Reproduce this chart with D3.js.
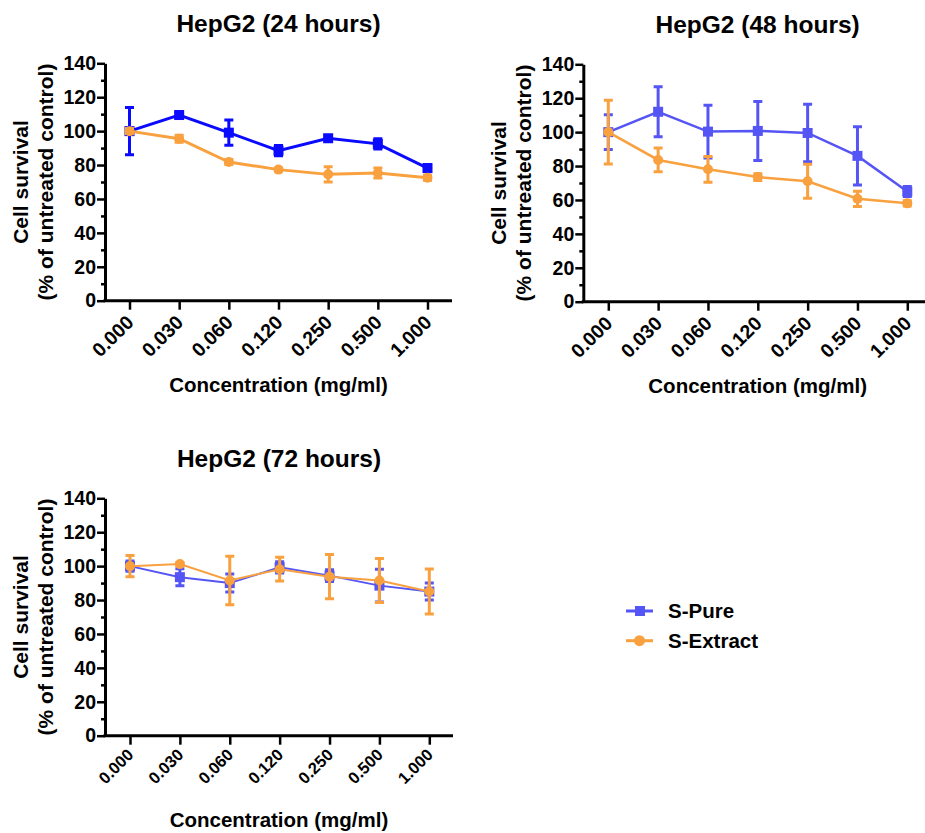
<!DOCTYPE html>
<html>
<head>
<meta charset="utf-8">
<script src="https://cdn.jsdelivr.net/npm/d3@7"></script>
<style>
  body { margin: 0; background: #fff; }
  svg { display: block; font-family: "Liberation Sans", Arial, sans-serif; font-weight: bold; }
</style>
</head>
<body>
<div id="container"></div>
<script>
/* DATA */
const concentrations = ["0.000", "0.030", "0.060", "0.120", "0.250", "0.500", "1.000"];
const yMajorTicks = [0, 20, 40, 60, 80, 100, 120, 140];
const yMinorTicks = [10, 30, 50, 70, 90, 110, 130];
const seriesNames = ["S-Pure", "S-Extract"];
const panelTitles = ["HepG2 (24 hours)", "HepG2 (48 hours)", "HepG2 (72 hours)"];

const pure24 = [100, 109.5, 99.1, 88.5, 95.8, 92.5, 78.2];
const pure24Err = [14, 1.5, 7.5, 3, 1.5, 3, 2];
const extract24 = [100, 95.5, 81.8, 77.3, 74.5, 75.3, 72.5];
const extract24Err = [1.5, 2, 1.5, 1, 4.5, 3, 1.5];

const pure48 = [100, 112, 100.3, 100.7, 99.5, 86, 65];
const pure48Err = [10.3, 14.7, 15.5, 17.4, 17, 17.2, 3];
const extract48 = [100, 83.6, 78.1, 73.5, 71, 60.7, 58];
const extract48Err = [18.8, 7, 7.6, 2, 10, 4.5, 1.5];

const pure72 = [100, 93.5, 90, 99.3, 94.4, 88.5, 85];
const pure72Err = [3, 5, 5.3, 3.3, 3.5, 9.6, 5];
const extract72 = [100, 101.2, 91.5, 98.2, 93.8, 91.5, 85];
const extract72Err = [6.2, 1, 14.3, 7, 13, 13, 13.3];

/* LAYOUT */
const width = 925;
const height = 833;
const orange = "#f9a03f";
const fontFamily = "'Liberation Sans', Arial, sans-serif";

const panels = [
  { title: panelTitles[0], pure: pure24, pureErr: pure24Err, extract: extract24, extractErr: extract24Err,
    axisX: 105, first: 129.5, last: 427.5, axisEnd: 452, yTop: 63.3, yBot: 300.7,
    blue: "#0a0aff", lineW: 3, xLabelSize: 19.5, xLabelShift: 18 },
  { title: panelTitles[1], pure: pure48, pureErr: pure48Err, extract: extract48, extractErr: extract48Err,
    axisX: 583.3, first: 608.3, last: 907.3, axisEnd: 932, yTop: 64.3, yBot: 301.7,
    blue: "#5555f5", lineW: 2.5, xLabelSize: 19.5, xLabelShift: 18 },
  { title: panelTitles[2], pure: pure72, pureErr: pure72Err, extract: extract72, extractErr: extract72Err,
    axisX: 105, first: 130, last: 429.3, axisEnd: 453, yTop: 498.3, yBot: 735.7,
    blue: "#5555f5", lineW: 2, xLabelSize: 16.5, xLabelShift: 16 },
];

const svg = d3
  .select("#container")
  .append("svg")
  .attr("width", width)
  .attr("height", height);

panels.forEach((p) => {
  const xScale = d3.scalePoint().domain(concentrations).range([p.first, p.last]);
  const yScale = d3.scaleLinear().domain([0, 140]).range([p.yBot, p.yTop]);
  const g = svg.append("g");
  const midX = (p.axisX + p.axisEnd) / 2;
  const midY = (p.yTop + p.yBot) / 2;

  // TITLE ------------------------------------------------
  g.append("text")
    .attr("x", midX)
    .attr("y", p.yTop - 31)
    .attr("text-anchor", "middle")
    .style("font-size", "24.5px")
    .text(p.title);

  // Y AXIS -----------------------------------------------
  const yAxis = g
    .append("g")
    .attr("transform", `translate(${p.axisX},0)`)
    .call(d3.axisLeft(yScale).tickValues(yMajorTicks).tickSize(8).tickSizeOuter(0).tickPadding(1));
  yAxis.select(".domain").attr("stroke-width", 3);
  yAxis.selectAll(".tick line").attr("stroke-width", 2.5);
  yAxis.selectAll(".tick text")
    .style("font-size", "19.5px")
    .style("font-weight", "bold")
    .style("font-family", fontFamily);

  const yMinor = g
    .append("g")
    .attr("transform", `translate(${p.axisX},0)`)
    .call(d3.axisLeft(yScale).tickValues(yMinorTicks).tickSize(4).tickSizeOuter(0).tickFormat(""));
  yMinor.select(".domain").remove();
  yMinor.selectAll(".tick line").attr("stroke-width", 2.5);

  // X AXIS -----------------------------------------------
  g.append("line")
    .attr("x1", p.axisX - 1.5)
    .attr("x2", p.axisEnd)
    .attr("y1", p.yBot)
    .attr("y2", p.yBot)
    .attr("stroke", "#000")
    .attr("stroke-width", 3);

  const xAxis = g
    .append("g")
    .attr("transform", `translate(0,${p.yBot})`)
    .call(d3.axisBottom(xScale).tickSize(9).tickSizeOuter(0));
  xAxis.select(".domain").remove();
  xAxis.selectAll(".tick line").attr("stroke-width", 2.5);
  xAxis.selectAll(".tick text")
    .attr("x", 0)
    .attr("y", 0)
    .attr("dy", "0.35em")
    .attr("text-anchor", "end")
    .attr("transform", `translate(0,${p.xLabelShift}) rotate(-45)`)
    .style("font-size", p.xLabelSize + "px")
    .style("font-weight", "bold")
    .style("font-family", fontFamily);

  // AXIS LABELS ------------------------------------------
  g.append("text")
    .attr("x", midX)
    .attr("y", p.yBot + 91)
    .attr("text-anchor", "middle")
    .style("font-size", "20.5px")
    .text("Concentration (mg/ml)");

  g.append("text")
    .attr("transform", `translate(${p.axisX - 77},${midY}) rotate(-90)`)
    .attr("text-anchor", "middle")
    .style("font-size", "21px")
    .text("Cell survival");

  g.append("text")
    .attr("transform", `translate(${p.axisX - 52},${midY}) rotate(-90)`)
    .attr("text-anchor", "middle")
    .style("font-size", "21px")
    .text("(% of untreated control)");

  // SERIES -----------------------------------------------
  const series = [
    { name: seriesNames[0], values: p.pure, errs: p.pureErr, color: p.blue, shape: "square" },
    { name: seriesNames[1], values: p.extract, errs: p.extractErr, color: orange, shape: "circle" },
  ];

  series.forEach((s) => {
    const rows = concentrations.map((c, i) => ({ c, v: s.values[i], e: s.errs[i] }));
    const sg = g.append("g");

    sg.append("path")
      .datum(rows)
      .attr("fill", "none")
      .attr("stroke", s.color)
      .attr("stroke-width", p.lineW)
      .attr("d", d3.line().x((d) => xScale(d.c)).y((d) => yScale(d.v)));

    // error bars
    sg.selectAll(".err")
      .data(rows)
      .join("path")
      .attr("class", "err")
      .attr("fill", "none")
      .attr("stroke", s.color)
      .attr("stroke-width", 3)
      .attr("d", (d) => {
        const x = xScale(d.c);
        const y1 = yScale(d.v + d.e);
        const y0 = yScale(d.v - d.e);
        return `M${x - 4.5},${y1}H${x + 4.5}M${x},${y1}V${y0}M${x - 4.5},${y0}H${x + 4.5}`;
      });

    if (s.shape === "square") {
      sg.selectAll(".mk")
        .data(rows)
        .join("rect")
        .attr("class", "mk")
        .attr("x", (d) => xScale(d.c) - 5)
        .attr("y", (d) => yScale(d.v) - 5)
        .attr("width", 10)
        .attr("height", 10)
        .attr("fill", s.color);
    } else {
      sg.selectAll(".mk")
        .data(rows)
        .join("circle")
        .attr("class", "mk")
        .attr("cx", (d) => xScale(d.c))
        .attr("cy", (d) => yScale(d.v))
        .attr("r", 5)
        .attr("fill", s.color);
    }
  });
});

// LEGEND -------------------------------------------------
const legendColors = ["#5555f5", orange];
const legend = svg
  .selectAll(".legend")
  .data(seriesNames)
  .join("g")
  .attr("class", "legend")
  .attr("transform", (_, i) => `translate(626,${611 + i * 29.7})`);

legend.append("line")
  .attr("x1", 0)
  .attr("x2", 27)
  .attr("stroke", (_, i) => legendColors[i])
  .attr("stroke-width", 3);

legend.each(function (d, i) {
  const el = d3.select(this);
  if (i === 0) {
    el.append("rect").attr("x", 9).attr("y", -5).attr("width", 10).attr("height", 10).attr("fill", legendColors[i]);
  } else {
    el.append("circle").attr("cx", 13.5).attr("cy", 0).attr("r", 5.5).attr("fill", legendColors[i]);
  }
});

legend.append("text")
  .attr("x", 42)
  .attr("dy", "0.36em")
  .style("font-size", "20.5px")
  .text((d) => d);
</script>
</body>
</html>
